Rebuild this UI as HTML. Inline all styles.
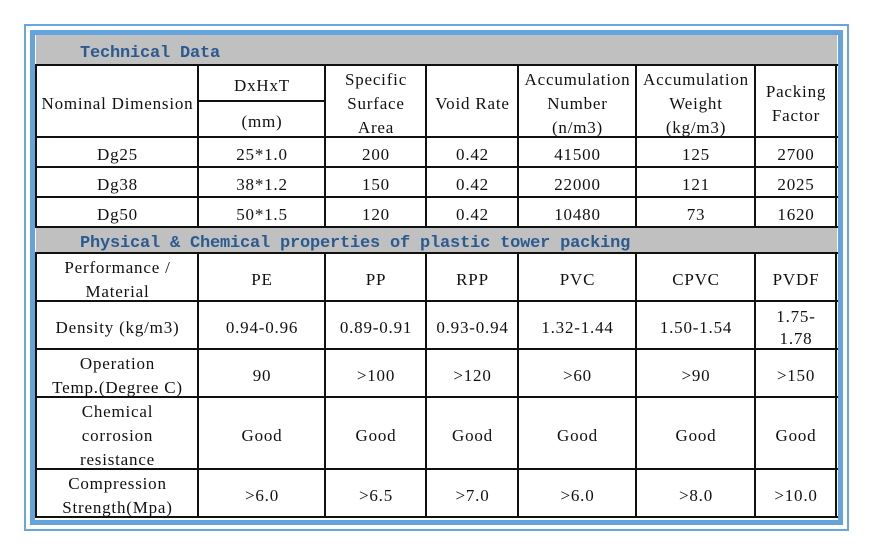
<!DOCTYPE html>
<html>
<head>
<meta charset="utf-8">
<style>
  html,body{margin:0;padding:0;background:#fff;}
  body{width:873px;height:555px;position:relative;overflow:hidden;
    font-family:"Liberation Serif","DejaVu Serif",serif;font-size:17px;letter-spacing:0.8px;color:#111;}
  .b{position:absolute;box-sizing:border-box;}
  .g{position:absolute;background:#c0c0c0;}
  .h{position:absolute;background:#111;height:2px;}
  .v{position:absolute;background:#111;width:2px;}
  .c{position:absolute;display:flex;align-items:center;justify-content:center;text-align:center;
     line-height:24px;padding-top:6px;box-sizing:border-box;white-space:nowrap;}
  .t{position:absolute;display:flex;align-items:center;font-weight:bold;color:#2a5a8f;
     font-family:"Liberation Mono","DejaVu Sans Mono",monospace;
     letter-spacing:-0.2px;box-sizing:border-box;white-space:nowrap;}
</style>
</head>
<body>
<!-- frames -->
<div class="b" style="left:24px;top:24px;width:825px;height:507px;border:2px solid #6aa6dc;"></div>
<div class="b" style="left:30px;top:30px;width:813px;height:495px;border:5px solid #65a3dd;"></div>

<!-- gray bands -->
<div class="g" style="left:36px;top:35px;width:801px;height:30px;"></div>
<div class="g" style="left:36px;top:228px;width:801px;height:25px;"></div>

<div class="t" style="left:80px;top:35px;height:30px;padding-top:6px;">Technical Data</div>
<div class="t" style="left:80px;top:227px;height:26px;padding-top:7px;">Physical &amp; Chemical properties of plastic tower packing</div>

<!-- horizontal lines table 1 -->
<div class="h" style="left:36px;top:64px;width:802px;"></div>
<div class="h" style="left:198px;top:100px;width:128px;"></div>
<div class="h" style="left:36px;top:136px;width:802px;"></div>
<div class="h" style="left:36px;top:166px;width:802px;"></div>
<div class="h" style="left:36px;top:196px;width:802px;"></div>
<div class="h" style="left:36px;top:226px;width:802px;"></div>
<!-- vertical lines table 1 -->
<div class="v" style="left:35px;top:64px;height:164px;"></div>
<div class="v" style="left:197px;top:64px;height:164px;"></div>
<div class="v" style="left:324px;top:64px;height:164px;"></div>
<div class="v" style="left:425px;top:64px;height:164px;"></div>
<div class="v" style="left:517px;top:64px;height:164px;"></div>
<div class="v" style="left:635px;top:64px;height:164px;"></div>
<div class="v" style="left:754px;top:64px;height:164px;"></div>
<div class="v" style="left:835px;top:64px;height:164px;"></div>

<!-- horizontal lines table 2 -->
<div class="h" style="left:36px;top:252px;width:802px;"></div>
<div class="h" style="left:36px;top:300px;width:802px;"></div>
<div class="h" style="left:36px;top:348px;width:802px;"></div>
<div class="h" style="left:36px;top:396px;width:802px;"></div>
<div class="h" style="left:36px;top:468px;width:802px;"></div>
<div class="h" style="left:36px;top:516px;width:802px;"></div>
<!-- vertical lines table 2 -->
<div class="v" style="left:35px;top:252px;height:266px;"></div>
<div class="v" style="left:197px;top:252px;height:266px;"></div>
<div class="v" style="left:324px;top:252px;height:266px;"></div>
<div class="v" style="left:425px;top:252px;height:266px;"></div>
<div class="v" style="left:517px;top:252px;height:266px;"></div>
<div class="v" style="left:635px;top:252px;height:266px;"></div>
<div class="v" style="left:754px;top:252px;height:266px;"></div>
<div class="v" style="left:835px;top:252px;height:266px;"></div>

<!-- Table 1 header -->
<div class="c" style="left:37px;top:65px;width:161px;height:72px;">Nominal Dimension</div>
<div class="c" style="left:199px;top:65px;width:126px;height:36px;">DxHxT</div>
<div class="c" style="left:199px;top:101px;width:126px;height:36px;">(mm)</div>
<div class="c" style="left:326px;top:65px;width:100px;height:72px;">Specific<br>Surface<br>Area</div>
<div class="c" style="left:427px;top:65px;width:91px;height:72px;">Void Rate</div>
<div class="c" style="left:519px;top:65px;width:117px;height:72px;">Accumulation<br>Number<br>(n/m3)</div>
<div class="c" style="left:637px;top:65px;width:118px;height:72px;">Accumulation<br>Weight<br>(kg/m3)</div>
<div class="c" style="left:756px;top:65px;width:80px;height:72px;">Packing<br>Factor</div>

<!-- Table 1 rows -->
<div class="c" style="left:37px;top:137px;width:161px;height:30px;">Dg25</div>
<div class="c" style="left:199px;top:137px;width:126px;height:30px;">25*1.0</div>
<div class="c" style="left:326px;top:137px;width:100px;height:30px;">200</div>
<div class="c" style="left:427px;top:137px;width:91px;height:30px;">0.42</div>
<div class="c" style="left:519px;top:137px;width:117px;height:30px;">41500</div>
<div class="c" style="left:637px;top:137px;width:118px;height:30px;">125</div>
<div class="c" style="left:756px;top:137px;width:80px;height:30px;">2700</div>

<div class="c" style="left:37px;top:167px;width:161px;height:30px;">Dg38</div>
<div class="c" style="left:199px;top:167px;width:126px;height:30px;">38*1.2</div>
<div class="c" style="left:326px;top:167px;width:100px;height:30px;">150</div>
<div class="c" style="left:427px;top:167px;width:91px;height:30px;">0.42</div>
<div class="c" style="left:519px;top:167px;width:117px;height:30px;">22000</div>
<div class="c" style="left:637px;top:167px;width:118px;height:30px;">121</div>
<div class="c" style="left:756px;top:167px;width:80px;height:30px;">2025</div>

<div class="c" style="left:37px;top:197px;width:161px;height:30px;">Dg50</div>
<div class="c" style="left:199px;top:197px;width:126px;height:30px;">50*1.5</div>
<div class="c" style="left:326px;top:197px;width:100px;height:30px;">120</div>
<div class="c" style="left:427px;top:197px;width:91px;height:30px;">0.42</div>
<div class="c" style="left:519px;top:197px;width:117px;height:30px;">10480</div>
<div class="c" style="left:637px;top:197px;width:118px;height:30px;">73</div>
<div class="c" style="left:756px;top:197px;width:80px;height:30px;">1620</div>

<!-- Table 2 -->
<div class="c" style="left:37px;top:253px;width:161px;height:48px;">Performance /<br>Material</div>
<div class="c" style="left:199px;top:253px;width:126px;height:48px;">PE</div>
<div class="c" style="left:326px;top:253px;width:100px;height:48px;">PP</div>
<div class="c" style="left:427px;top:253px;width:91px;height:48px;">RPP</div>
<div class="c" style="left:519px;top:253px;width:117px;height:48px;">PVC</div>
<div class="c" style="left:637px;top:253px;width:118px;height:48px;">CPVC</div>
<div class="c" style="left:756px;top:253px;width:80px;height:48px;">PVDF</div>

<div class="c" style="left:37px;top:301px;width:161px;height:48px;">Density (kg/m3)</div>
<div class="c" style="left:199px;top:301px;width:126px;height:48px;">0.94-0.96</div>
<div class="c" style="left:326px;top:301px;width:100px;height:48px;">0.89-0.91</div>
<div class="c" style="left:427px;top:301px;width:91px;height:48px;">0.93-0.94</div>
<div class="c" style="left:519px;top:301px;width:117px;height:48px;">1.32-1.44</div>
<div class="c" style="left:637px;top:301px;width:118px;height:48px;">1.50-1.54</div>
<div class="c" style="left:756px;top:301px;width:80px;height:48px;line-height:22px;">1.75-<br>1.78</div>

<div class="c" style="left:37px;top:349px;width:161px;height:48px;">Operation<br>Temp.(Degree C)</div>
<div class="c" style="left:199px;top:349px;width:126px;height:48px;">90</div>
<div class="c" style="left:326px;top:349px;width:100px;height:48px;">&gt;100</div>
<div class="c" style="left:427px;top:349px;width:91px;height:48px;">&gt;120</div>
<div class="c" style="left:519px;top:349px;width:117px;height:48px;">&gt;60</div>
<div class="c" style="left:637px;top:349px;width:118px;height:48px;">&gt;90</div>
<div class="c" style="left:756px;top:349px;width:80px;height:48px;">&gt;150</div>

<div class="c" style="left:37px;top:397px;width:161px;height:72px;">Chemical<br>corrosion<br>resistance</div>
<div class="c" style="left:199px;top:397px;width:126px;height:72px;">Good</div>
<div class="c" style="left:326px;top:397px;width:100px;height:72px;">Good</div>
<div class="c" style="left:427px;top:397px;width:91px;height:72px;">Good</div>
<div class="c" style="left:519px;top:397px;width:117px;height:72px;">Good</div>
<div class="c" style="left:637px;top:397px;width:118px;height:72px;">Good</div>
<div class="c" style="left:756px;top:397px;width:80px;height:72px;">Good</div>

<div class="c" style="left:37px;top:469px;width:161px;height:48px;">Compression<br>Strength(Mpa)</div>
<div class="c" style="left:199px;top:469px;width:126px;height:48px;">&gt;6.0</div>
<div class="c" style="left:326px;top:469px;width:100px;height:48px;">&gt;6.5</div>
<div class="c" style="left:427px;top:469px;width:91px;height:48px;">&gt;7.0</div>
<div class="c" style="left:519px;top:469px;width:117px;height:48px;">&gt;6.0</div>
<div class="c" style="left:637px;top:469px;width:118px;height:48px;">&gt;8.0</div>
<div class="c" style="left:756px;top:469px;width:80px;height:48px;">&gt;10.0</div>
</body>
</html>
